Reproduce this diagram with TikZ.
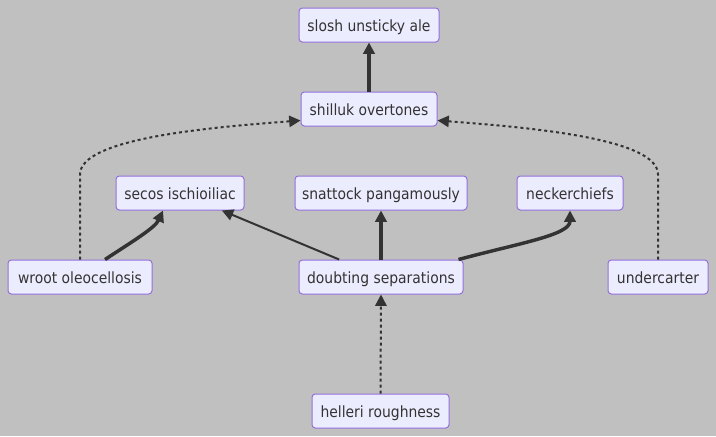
\documentclass[tikz,border=0pt]{standalone}
\usepackage{fontspec}
\setmainfont{DejaVu Sans Condensed}
\usetikzlibrary{arrows.meta,calc}
\definecolor{bg}{HTML}{C0C0C0}
\definecolor{nodefill}{HTML}{ECECFF}
\definecolor{nodeline}{HTML}{9370DB}
\definecolor{edgecol}{HTML}{333333}
\tikzset{
  box/.style={draw=nodeline, fill=nodefill, rounded corners=2.5pt, line width=0.75pt,
    minimum height=25.5pt, inner sep=0pt, text height=10pt, text depth=0pt,
    text=edgecol, font=\fontsize{11.6}{13}\selectfont},
  tip/.style={-{Triangle[length=8.5pt,width=8.5pt]}},
  thickedge/.style={draw=edgecol, line width=2.6pt, tip},
  thinedge/.style={draw=edgecol, line width=1.5pt, tip},
  dotedge/.style={draw=edgecol, line width=1.5pt, dash pattern=on 2.25pt off 2.25pt, tip},
}
\begin{document}
\begin{tikzpicture}[x=0.75pt,y=-0.75pt]
\fill[bg] (0,0) rectangle (716,436);
\useasboundingbox (0,0) rectangle (716,436);
\node[box, minimum width=105pt] (slosh) at (369,25) {slosh unsticky ale};
\node[box, minimum width=102pt] (shilluk) at (369,109) {shilluk overtones};
\node[box, minimum width=96pt] (secos) at (180,193) {secos ischioiliac};
\node[box, minimum width=129pt] (snattock) at (381,193) {snattock pangamously};
\node[box, minimum width=79.5pt] (necker) at (570,193) {neckerchiefs};
\node[box, minimum width=108pt] (wroot) at (80,277) {wroot oleocellosis};
\node[box, minimum width=123pt] (doubting) at (381,277) {doubting separations};
\node[box, minimum width=75pt] (under) at (658,277) {undercarter};
\node[box, minimum width=102.75pt] (helleri) at (380.5,411) {helleri roughness};

\draw[thickedge] (shilluk.north) -- (slosh.south);
\draw[dotedge] (wroot.north) -- ++(0,-85) .. controls ++(0,-35) and (200,128) .. ($(shilluk.south west)+(0,-6)$);
\draw[dotedge] (under.north) -- ++(0,-85) .. controls ++(0,-35) and (538,128) .. ($(shilluk.south east)+(0,-6)$);
\draw[thickedge] ($(wroot.north)+(25,0)$) .. controls (130,243) and (155,228) .. ($(secos.south)+(-17,0)$);
\draw[thinedge] (doubting) -- (secos);
\draw[thickedge] (doubting.north) -- (snattock.south);
\draw[thickedge] ($(doubting.north east)+(-5,0)$) .. controls (520,243) and (570,235) .. (necker.south);
\draw[dotedge] (helleri.north) -- (doubting.south);
\end{tikzpicture}
\end{document}
